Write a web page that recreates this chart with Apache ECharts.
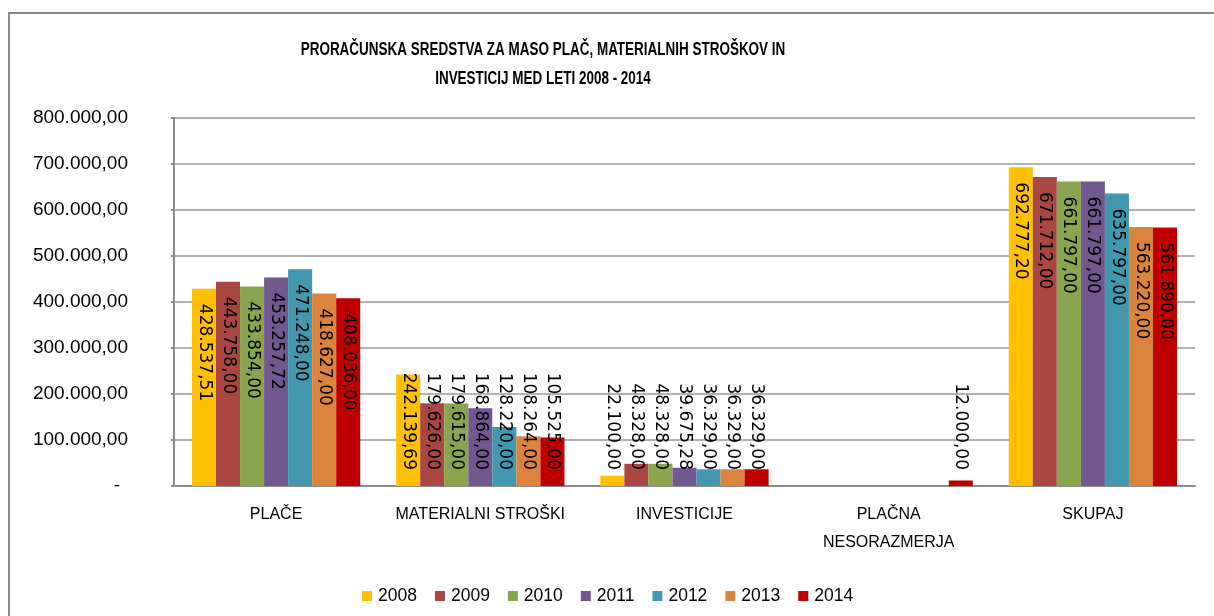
<!DOCTYPE html>
<html>
<head>
<meta charset="utf-8">
<script src="https://cdn.jsdelivr.net/npm/echarts@6.0.0/dist/echarts.min.js"></script>
<style>
  html, body { margin: 0; padding: 0; background: #fff; }
  #chart { width: 1214px; height: 616px; }
</style>
</head>
<body>
<div id="chart"></div>
<script>
const categories = ['PLAČE', 'MATERIALNI STROŠKI', 'INVESTICIJE', 'PLAČNA\nNESORAZMERJA', 'SKUPAJ']
const years = ['2008', '2009', '2010', '2011', '2012', '2013', '2014']
const colors = ['#FFC000', '#AA4643', '#89A54E', '#71588F', '#4198AF', '#DB843D', '#C00000']

// '-' = ni podatka (prazen stolpec)
const v2008 = [428537.51, 242139.69, 22100.00, '-', 692777.20]
const v2009 = [443758.00, 179626.00, 48328.00, '-', 671712.00]
const v2010 = [433854.00, 179615.00, 48328.00, '-', 661797.00]
const v2011 = [453257.72, 168864.00, 39675.28, '-', 661797.00]
const v2012 = [471248.00, 128220.00, 36329.00, '-', 635797.00]
const v2013 = [418627.00, 108264.00, 36329.00, '-', 563220.00]
const v2014 = [408036.00, 105525.00, 36329.00, 12000.00, 561890.00]
const seriesValues = [v2008, v2009, v2010, v2011, v2012, v2013, v2014]

const fmt = (v) => {
  const [i, d] = Number(v).toFixed(2).split('.')
  return i.replace(/\B(?=(\d{3})+(?!\d))/g, '.') + ',' + d
}

const chart = echarts.init(document.getElementById('chart'))

const series = years.map((year, k) => ({
  name: year,
  type: 'bar',
  barGap: 0,
  barCategoryGap: '17.6%',
  itemStyle: { color: colors[k] },
  data: seriesValues[k].map((v) => {
    if (v === '-') return '-'
    // tall bars: label hangs from the top; short bars: label sits above the base
    const tall = v > 300000
    return {
      value: v,
      label: tall
        ? { position: 'insideTop', align: 'left', distance: 15 }
        : { position: 'insideBottom', align: 'right', distance: 16 },
    }
  }),
  label: {
    show: true,
    rotate: -90,
    verticalAlign: 'middle',
    fontFamily: 'DejaVu Sans',
    fontSize: 17,
    color: '#000',
    formatter: (p) => fmt(p.value),
  },
}))

const option = {
  animation: false,
  backgroundColor: '#fff',
  graphic: [
    {
      type: 'rect',
      shape: { x: 9, y: 13, width: 1400, height: 800 },
      style: { fill: null, stroke: '#8a8a8a', lineWidth: 2 },
      silent: true,
    },
    {
      // narrow bold title (squeezed horizontally)
      type: 'text',
      x: 543,
      y: 36,
      scaleX: 0.77,
      style: {
        text: 'PRORAČUNSKA SREDSTVA ZA MASO PLAČ, MATERIALNIH STROŠKOV IN\nINVESTICIJ MED LETI 2008 - 2014',
        align: 'center',
        verticalAlign: 'top',
        fontFamily: 'Liberation Sans',
        fontWeight: 'bold',
        fontSize: 17.5,
        lineHeight: 28.5,
        fill: '#000',
      },
    },
  ],
  legend: {
    data: years,
    left: 357,
    top: 582,
    icon: 'rect',
    itemWidth: 10,
    itemHeight: 10,
    itemGap: 18,
    textStyle: { fontFamily: 'Liberation Sans', fontSize: 17.5, color: '#000', padding: [0, 0, 0, 1] },
  },
  grid: {
    left: 174,
    right: 19,
    top: 118,
    bottom: 130,
    containLabel: false,
  },
  xAxis: {
    type: 'category',
    data: categories,
    axisLine: { lineStyle: { color: '#8c8c8c', width: 2 } },
    axisTick: { show: false },
    axisLabel: {
      interval: 0,
      margin: 15,
      color: '#000',
      fontFamily: 'Liberation Sans',
      fontSize: 16,
      lineHeight: 28,
    },
  },
  yAxis: {
    type: 'value',
    min: 0,
    max: 800000,
    interval: 100000,
    axisLine: { show: true, lineStyle: { color: '#8c8c8c', width: 2 } },
    axisTick: { show: true, length: 3, lineStyle: { color: '#8c8c8c', width: 2 } },
    splitLine: { lineStyle: { color: '#9a9a9a', width: 1.5 } },
    axisLabel: {
      margin: 46,
      color: '#000',
      fontFamily: 'Liberation Sans',
      fontSize: 19,
      formatter: (v) => (v === 0 ? '{z|-}' : fmt(v)),
      rich: { z: { fontFamily: 'Liberation Sans', fontSize: 19, color: '#000', padding: [0, 8, 0, 0] } },
    },
  },
  series,
}

chart.setOption(option)
</script>
</body>
</html>
